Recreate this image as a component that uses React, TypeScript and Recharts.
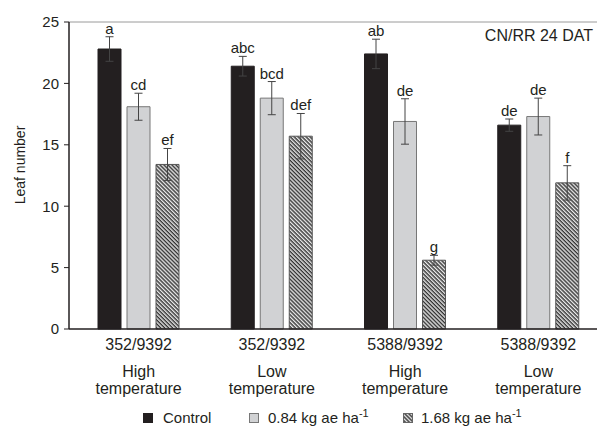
import { BarChart, Bar, XAxis, YAxis, ErrorBar, LabelList, ReferenceLine } from 'recharts';

const GROUPS = ['352/9392', '352/9392', '5388/9392', '5388/9392'];
const TEMPS = ['High', 'Low', 'High', 'Low'];
const CONTROL = [22.8, 21.4, 22.4, 16.6];
const CONTROL_ERR = [1.0, 0.8, 1.2, 0.5];
const LOW_DOSE = [18.1, 18.8, 16.9, 17.3];
const LOW_DOSE_ERR = [1.1, 1.35, 1.85, 1.5];
const HIGH_DOSE = [13.4, 15.7, 5.6, 11.9];
const HIGH_DOSE_ERR = [1.3, 1.85, 0.4, 1.4];
const CONTROL_LETTERS = ['a', 'abc', 'ab', 'de'];
const LOW_LETTERS = ['cd', 'bcd', 'de', 'de'];
const HIGH_LETTERS = ['ef', 'def', 'g', 'f'];
const Y_TICKS = [0, 5, 10, 15, 20, 25];

const data = GROUPS.map((g, i) => ({
  key: i,
  group: g,
  temp: TEMPS[i],
  control: CONTROL[i],
  controlErr: CONTROL_ERR[i],
  low: LOW_DOSE[i],
  lowErr: LOW_DOSE_ERR[i],
  high: HIGH_DOSE[i],
  highErr: HIGH_DOSE_ERR[i],
}));

const FONT = '"Liberation Sans", Arial, Helvetica, sans-serif';
const INK = '#231f20';

function XTick({ x, y, payload }: any) {
  const row = data[payload.value];
  return (
    <g fontFamily={FONT} fontSize={16} fill={INK} textAnchor="middle">
      <text x={x} y={y + 13}>{row.group}</text>
      <text x={x} y={y + 40}>{row.temp}</text>
      <text x={x} y={y + 57}>temperature</text>
    </g>
  );
}

function letterLabel(letters: string[], errs: number[]) {
  return ({ x, y, width, height, value, index }: any) => {
    const perUnit = value ? height / value : 0;
    const top = y - errs[index] * perUnit;
    return (
      <text x={x + width / 2} y={top - 3} textAnchor="middle" fontFamily={FONT} fontSize={15} fill={INK}>
        {letters[index]}
      </text>
    );
  };
}

export default function App() {
  return (
    <div style={{ position: 'fixed', left: 0, top: 0, width: 597, height: 428, overflow: 'hidden', background: '#fff' }}>
      <svg width={0} height={0} style={{ position: 'absolute' }}>
        <defs>
          <pattern id="hatch" width={2.8} height={2.8} patternUnits="userSpaceOnUse" patternTransform="rotate(45)">
            <rect width={2.8} height={2.8} fill="#e8e8e8" />
            <rect width={2.8} height={1.4} fill="#333" />
          </pattern>
        </defs>
      </svg>
      <BarChart
        width={605}
        height={428}
        data={data}
        margin={{ top: 22, right: 0, bottom: 69, left: 0 }}
        barSize={23}
        barGap={6}
      >
        <XAxis
          dataKey="key"
          height={30}
          tick={<XTick />}
          tickLine={false}
          axisLine={{ stroke: INK, strokeWidth: 1.5 }}
          padding={{ left: 3, right: 0 }}
          interval={0}
        />
        <YAxis
          width={69}
          domain={[0, 25]}
          ticks={Y_TICKS}
          tickSize={5}
          tickMargin={5}
          axisLine={{ stroke: INK, strokeWidth: 1.5 }}
          tickLine={{ stroke: INK }}
          tick={{ fontSize: 15, fill: INK, fontFamily: FONT }}
        />
        <ReferenceLine y={25} stroke="#9a9a9a" strokeWidth={1} />
        <Bar dataKey="control" fill={INK} stroke={INK} isAnimationActive={false}>
          <ErrorBar dataKey="controlErr" width={4} stroke="#444" strokeWidth={1} />
          <LabelList dataKey="control" content={letterLabel(CONTROL_LETTERS, CONTROL_ERR)} />
        </Bar>
        <Bar dataKey="low" fill="#d1d2d4" stroke="#777" isAnimationActive={false}>
          <ErrorBar dataKey="lowErr" width={4} stroke="#444" strokeWidth={1} />
          <LabelList dataKey="low" content={letterLabel(LOW_LETTERS, LOW_DOSE_ERR)} />
        </Bar>
        <Bar dataKey="high" fill="url(#hatch)" stroke="#555" isAnimationActive={false}>
          <ErrorBar dataKey="highErr" width={4} stroke="#444" strokeWidth={1} />
          <LabelList dataKey="high" content={letterLabel(HIGH_LETTERS, HIGH_DOSE_ERR)} />
        </Bar>
      </BarChart>
      <svg width={597} height={428} style={{ position: 'absolute', left: 0, top: 0, pointerEvents: 'none' }}>
        <g fontFamily={FONT} fontSize={15} fill={INK}>
          <text x={25} y={165} fontSize={14} textAnchor="middle" transform="rotate(-90 25 165)">Leaf number</text>
          <text x={593} y={41} fontSize={16} textAnchor="end">CN/RR 24 DAT</text>
          <rect x={143} y={413} width={10} height={10} fill={INK} />
          <text x={163} y={423}>Control</text>
          <rect x={249.5} y={413.5} width={9} height={9} fill="#d1d2d4" stroke="#777" />
          <text x={268} y={423}>0.84 kg ae ha<tspan dy={-6} fontSize={11}>-1</tspan></text>
          <rect x={403.5} y={413.5} width={9} height={9} fill="url(#hatch)" stroke="#666" />
          <text x={421} y={423}>1.68 kg ae ha<tspan dy={-6} fontSize={11}>-1</tspan></text>
        </g>
      </svg>
    </div>
  );
}
